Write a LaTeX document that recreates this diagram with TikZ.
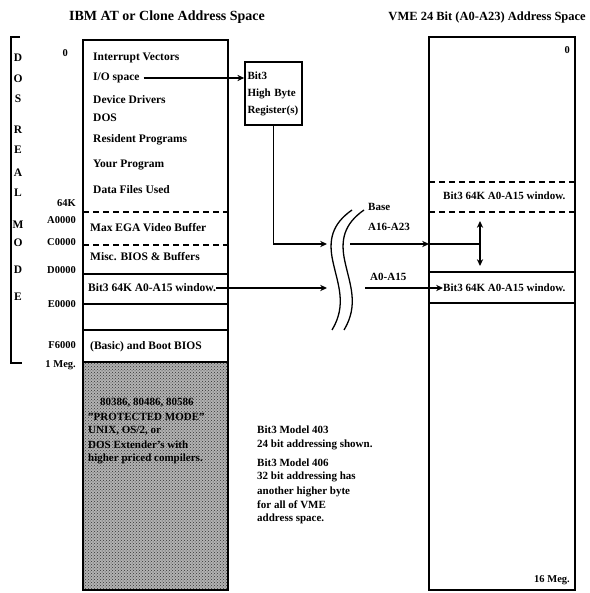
\documentclass[tikz,border=0pt]{standalone}
\usepackage{fontspec}
\setmainfont{Liberation Serif}
\usetikzlibrary{arrows.meta,patterns}

\begin{document}
\begin{tikzpicture}[x=1pt, y=-1pt,
    mem/.style={draw=black, line width=1.3pt},
    sol/.style={draw=black, line width=1.1pt},
    dsh/.style={draw=black, line width=1.1pt, dash pattern=on 6pt off 4pt},
    cell/.style={font=\fontsize{11.5}{13}\selectfont\bfseries, inner sep=0pt, anchor=west},
    addr/.style={font=\fontsize{10.5}{12}\selectfont\bfseries, inner sep=0pt, anchor=east},
    note/.style={font=\fontsize{11}{13}\selectfont\bfseries, inner sep=0pt, anchor=west},
    ttl/.style={font=\fontsize{14}{16}\selectfont\bfseries, inner sep=0pt},
    regbox/.style={draw=black, line width=1.6pt, align=left, inner sep=2pt,
              minimum width=57pt, minimum height=63pt, text width=52pt,
              font=\fontsize{11}{17}\selectfont\bfseries},
    arr/.style={-{Stealth[length=2.4mm, width=2.2mm]}, draw=black, line width=1.4pt}]
  \useasboundingbox (0,0) rectangle (589,593);

  % ---------- titles ---------------------------------------------------------
  \node[ttl] (pcttl) at (167,17) {IBM AT or Clone Address Space};
  \node[ttl, anchor=east, font=\fontsize{12.5}{15}\selectfont\bfseries] (vmettl) at (586,17)
    {VME 24 Bit (A0-A23) Address Space};

  % ---------- DOS real mode bracket ------------------------------------------
  \draw[sol] (20,37) -- (11,37) -- (11,363) -- (22,363);
  \foreach \ch/\y in {D/58,O/79,S/99,R/130,E/150,A/173,L/193,M/225,O/243,D/270,E/297}
    { \node[cell, anchor=center] at (18,\y) {\ch}; }

  % ---------- PC address space ------------------------------------------------
  \fill[black!30] (83,362) rectangle (228,590);
  \fill[pattern=crosshatch dots, pattern color=black!80] (83,362) rectangle (228,590);
  \draw[mem] (83,40) rectangle (228,590);
  \foreach \y in {212,245} { \draw[dsh] (83,\y) -- (228,\y); }
  \foreach \y in {274,304,330,362} { \draw[sol] (83,\y) -- (228,\y); }

  \node[cell] (ivec) at (93,58)  {Interrupt Vectors};
  \node[cell] (io)   at (93,78)  {I/O space};
  \node[cell] (drv)  at (93,100) {Device Drivers};
  \node[cell] (dos)  at (93,118) {DOS};
  \node[cell] (res)  at (93,140) {Resident Programs};
  \node[cell] (prog) at (93,165) {Your Program};
  \node[cell] (data) at (93,190) {Data Files Used};
  \node[cell] (ega)  at (90,228) {Max EGA Video Buffer};
  \node[cell] (bios) at (90,257) {Misc. BIOS \& Buffers};
  \node[cell] (pcwin) at (88,288) {Bit3 64K A0-A15 window.};
  \node[cell] (boot) at (90,347) {(Basic) and Boot BIOS};

  \node[addr] (a0)   at (68,53)  {0};
  \node[addr] (a64k) at (76,203) {64K};
  \node[addr] (aA)   at (76,220) {A0000};
  \node[addr] (aC)   at (76,242) {C0000};
  \node[addr] (aD)   at (76,270) {D0000};
  \node[addr] (aE)   at (76,304) {E0000};
  \node[addr] (aF)   at (76,345) {F6000};
  \node[addr] (a1m)  at (76,365) {1 Meg.};

  % protected mode area
  \node[note] (pm1) at (100,403) {80386, 80486, 80586};
  \node[note] (pm2) at (88,417)  {"PROTECTED MODE"};
  \node[note] (pm3) at (88,431)  {UNIX, OS/2, or};
  \node[note] (pm4) at (88,445)  {DOS Extender's with};
  \node[note] (pm5) at (88,459)  {higher priced compilers.};

  % ---------- high byte register ---------------------------------------------
  \node[regbox] (reg) at (273.5,93.5) {Bit3\\High Byte\\Register(s)};
  \draw[arr] ([xshift=4pt]io.east) -- (io.east -| reg.west);

  % ---------- break in the bus -----------------------------------------------
  \foreach \s in {0,12}
    { \draw[line width=1.3pt] ({352+\s},210) .. controls ({332+\s},224) and ({328+\s},240) .. ({333+\s},262)
        .. controls ({338+\s},285) and ({347+\s},305) .. ({332+\s},330); }
  \coordinate (wbase) at (327,244);
  \coordinate (wlow)  at (327,288);
  \coordinate (bbase) at (350,244);
  \coordinate (blow)  at (365,288);
  \draw[arr] (reg.south) -- (reg.south |- wbase) -- (wbase);
  \draw[arr] (pcwin.east) -- (pcwin.east -| wlow);
  \node[note] (lbase) at (368,207) {Base};
  \node[note] (lhigh) at (368,227) {A16-A23};
  \node[note] (llow)  at (370,277) {A0-A15};

  % ---------- VME address space ----------------------------------------------
  \draw[mem] (429,37) rectangle (575,590);
  \foreach \y in {182,212} { \draw[dsh] (429,\y) -- (575,\y); }
  \foreach \y in {272,303} { \draw[sol] (429,\y) -- (575,\y); }
  \node[addr] (v0)  at (570,50)  {0};
  \node[note] (rwinA) at (443,196) {Bit3 64K A0-A15 window.};
  \node[note] (rwinB) at (443,288) {Bit3 64K A0-A15 window.};
  \node[addr] (v16) at (570,580) {16 Meg.};

  \coordinate (vin)  at (429,244);
  \coordinate (vmid) at (480,244);
  \coordinate (vtop) at (480,221);
  \coordinate (vbot) at (480,266);
  \draw[arr] (bbase) -- (vin);
  \draw[sol] (vin) -- (vmid);
  \draw[arr, {Stealth[length=2.4mm, width=2.2mm]}-{Stealth[length=2.4mm, width=2.2mm]}] (vtop) -- (vbot);
  \draw[arr] (blow) -- (blow -| rwinB.west);

  % ---------- notes -----------------------------------------------------------
  \node[note] (m403a) at (257,430) {Bit3 Model 403};
  \node[note] (m403b) at (257,445) {24 bit addressing shown.};
  \node[note] (m406a) at (257,463) {Bit3 Model 406};
  \node[note] (m406b) at (257,477) {32 bit addressing has};
  \node[note] (m406c) at (257,492) {another higher byte};
  \node[note] (m406d) at (257,505) {for all of VME};
  \node[note] (m406e) at (257,519) {address space.};
\end{tikzpicture}
\end{document}
